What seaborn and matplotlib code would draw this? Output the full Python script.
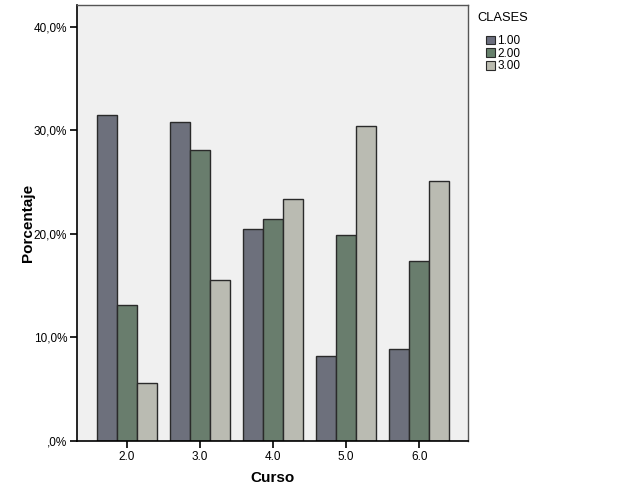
import pandas as pd
import matplotlib
matplotlib.use("Agg")
import matplotlib.pyplot as plt
import seaborn as sns
from matplotlib.ticker import FuncFormatter

# Data
cursos = ["2.0", "3.0", "4.0", "5.0", "6.0"]
clases = ["1.00", "2.00", "3.00"]
clase1 = [31.5, 30.8, 20.5, 8.2, 8.9]
clase2 = [13.1, 28.1, 21.4, 19.9, 17.4]
clase3 = [5.6, 15.5, 23.4, 30.4, 25.1]

df = pd.DataFrame({
    "Curso": cursos * 3,
    "CLASES": [c for c in clases for _ in cursos],
    "Porcentaje": clase1 + clase2 + clase3,
})

sns.set_style("white")
plt.rcParams["font.family"] = ["Liberation Sans", "DejaVu Sans"]
plt.rcParams["text.color"] = "black"
plt.rcParams["axes.labelcolor"] = "black"
plt.rcParams["xtick.color"] = "black"
plt.rcParams["ytick.color"] = "black"

colors = ["#6b6e7e", "#66806b", "#bbbcb0"]

fig = plt.figure(figsize=(6.26, 5.01), dpi=100)
ax = fig.add_axes([0.123, 0.120, 0.625, 0.870])
ax.set_facecolor("#f0f0f0")

sns.barplot(data=df, x="Curso", y="Porcentaje", hue="CLASES", palette=colors,
            width=0.82, edgecolor="#2a2a2a", linewidth=1.0, ax=ax, legend=False)

ax.set_ylim(0, 42.1)
ax.set_xlim(-0.685, 4.67)
ax.set_yticks([0, 10, 20, 30, 40])
ax.yaxis.set_major_formatter(FuncFormatter(
    lambda v, p: ",0%" if v == 0 else f"{v:.1f}%".replace(".", ",")))
ax.tick_params(axis="both", labelsize=8.5, length=5, width=1.2,
               color="black", labelcolor="black", left=True, bottom=True, pad=2)
ax.set_xlabel("Curso", fontsize=11, fontweight="bold", labelpad=6)
ax.set_ylabel("Porcentaje", fontsize=11, fontweight="bold", labelpad=-1)

for side in ["left", "bottom"]:
    ax.spines[side].set_color("black")
    ax.spines[side].set_linewidth(1.2)
for side in ["top", "right"]:
    ax.spines[side].set_color("#555555")
    ax.spines[side].set_linewidth(1.0)

fig.text(477 / 626, 1 - 18 / 501, "CLASES", fontsize=9.3, va="center", ha="left")
handles = [plt.Rectangle((0, 0), 1, 1, facecolor=c, edgecolor="#2a2a2a",
                         linewidth=0.8) for c in colors]
fig.legend(handles, clases, loc="upper left",
           bbox_to_anchor=(478 / 626, 1 - 27 / 501), frameon=False, fontsize=8.5,
           handlelength=0.75, handleheight=0.75, handletextpad=0.2,
           labelspacing=0.05, borderpad=0.2)

fig.savefig("out.png", dpi=100)
